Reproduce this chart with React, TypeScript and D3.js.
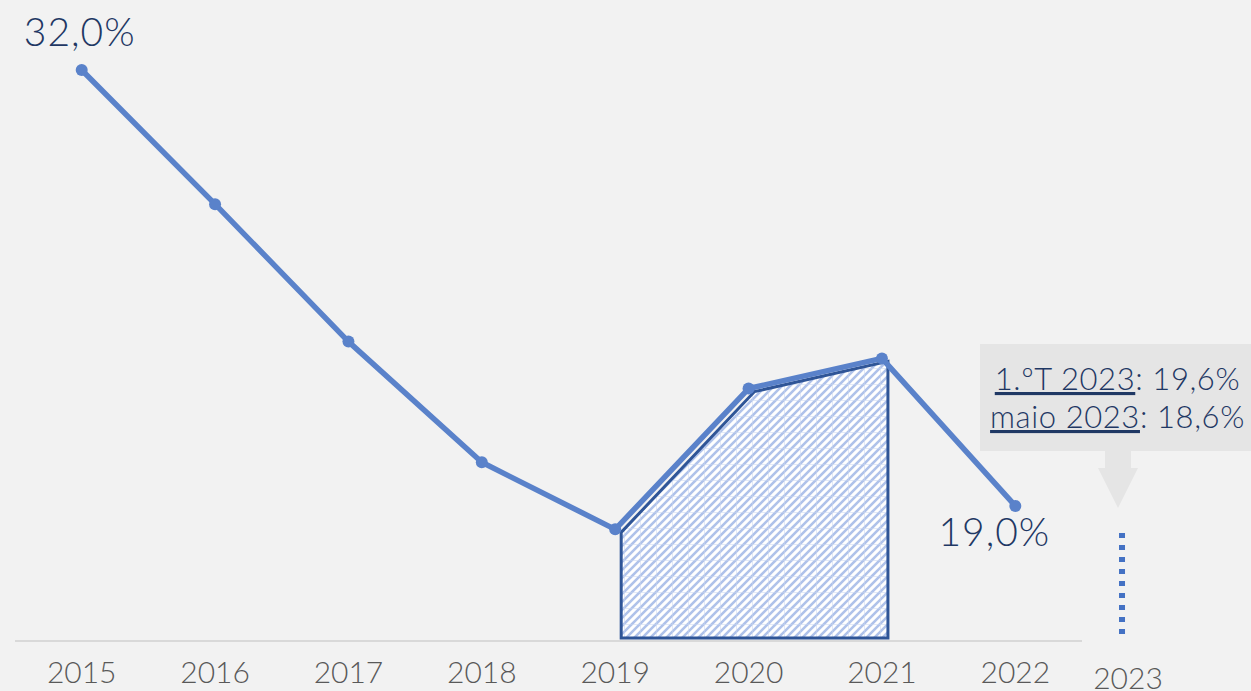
import React from "react";
import * as d3 from "d3";

const years = ["2015", "2016", "2017", "2018", "2019", "2020", "2021", "2022"];
const rates = [32.0, 28.0, 23.9, 20.3, 18.3, 22.5, 23.4, 19.0];
const shadedYears = ["2019", "2020", "2021"];
const extraYear = "2023";
const calloutLines = [
  { label: "1.ºT 2023", value: ": 19,6%" },
  { label: "maio 2023", value: ": 18,6%" },
];
const labelledPoints = [
  { year: "2015", text: "32,0%" },
  { year: "2022", text: "19,0%" },
];

const W = 1251;
const H = 691;
const FONT = "Lato, 'Open Sans', sans-serif";
const DARK = "#1F3864";
const LINE = "#5A82CA";

export default function App() {
  const x = d3.scaleBand<string>().domain(years).range([15, 1082]).padding(0);
  const cx = (y: string) => (x(y) as number) + x.bandwidth() / 2;
  const y = d3.scaleLinear().domain([15, 34]).range([640, 3]);
  const baseY = 641;

  const data = years.map((yr, i) => ({ yr, v: rates[i] }));
  const line = d3
    .line<{ yr: string; v: number }>()
    .x((d) => cx(d.yr))
    .y((d) => y(d.v));
  const shaded = data.filter((d) => shadedYears.includes(d.yr));
  const area = d3
    .area<{ yr: string; v: number }>()
    .x((d) => cx(d.yr) + 6)
    .y0(baseY - 3)
    .y1((d) => y(d.v) + 3);

  const x2023 = cx("2022") + x.bandwidth() * 0.8;
  const boxX = 980;
  const boxW = W - boxX;
  const boxY = 344;
  const boxH = 107;
  const arrowCx = 1118;

  return (
    <svg width={W} height={H} style={{ position: "absolute", left: 0, top: 0, display: "block" }}>
      <defs>
        <pattern id="hatch" width="16" height="16" patternUnits="userSpaceOnUse">
          <rect width="16" height="16" fill="#FFFFFF" />
          <path
            d="M-4,4 L4,-4 M0,16 L16,0 M12,20 L20,12 M-4,12 L12,-4 M4,20 L20,4"
            stroke="#AFC2EA"
            strokeWidth="2.6"
          />
          <path d="M0,0 L16,0 M0,0 L0,16" stroke="#C9D6F0" strokeWidth="1" />
        </pattern>
      </defs>
      <rect width={W} height={H} fill="#F2F2F2" />

      <line x1={15} x2={1082} y1={baseY} y2={baseY} stroke="#D9D9D9" strokeWidth={2} />

      <path
        d={area(shaded) as string}
        fill="url(#hatch)"
        stroke="#2F5597"
        strokeWidth={3}
        strokeLinejoin="miter"
      />
      <path d={line(data) as string} fill="none" stroke={LINE} strokeWidth={5.5} strokeLinejoin="round" />
      {data.map((d) => (
        <circle key={d.yr} cx={cx(d.yr)} cy={y(d.v)} r={6} fill={LINE} />
      ))}

      {labelledPoints.map((p) => {
        const d = data.find((e) => e.yr === p.year)!;
        const isFirst = p.year === years[0];
        return (
          <text
            key={p.year}
            x={cx(p.year) + (isFirst ? -2 : -21)}
            y={y(d.v) + (isFirst ? -24 : 40)}
            textAnchor="middle"
            fontFamily={FONT}
            fontWeight={300}
            fontSize={39}
            letterSpacing={1}
            fill={DARK}
          >
            {p.text}
          </text>
        );
      })}

      {years.map((yr) => (
        <text
          key={yr}
          x={cx(yr)}
          y={683}
          textAnchor="middle"
          fontFamily={FONT}
          fontWeight={300}
          fontSize={30}
          fill="#595959"
        >
          {yr}
        </text>
      ))}
      <text x={x2023 + 6} y={689} textAnchor="middle" fontFamily={FONT} fontWeight={300} fontSize={30} fill="#595959">
        {extraYear}
      </text>

      <line
        x1={x2023}
        x2={x2023}
        y1={533}
        y2={636}
        stroke="#4472C4"
        strokeWidth={6}
        strokeDasharray="5 7"
      />

      <rect x={boxX} y={boxY} width={boxW} height={boxH} fill="#E5E5E5" />
      <path
        d={`M${arrowCx - 13},${boxY + boxH} L${arrowCx + 13},${boxY + boxH} L${arrowCx + 13},${boxY + boxH + 17} L${arrowCx + 20},${boxY + boxH + 17} L${arrowCx},${boxY + boxH + 57} L${arrowCx - 20},${boxY + boxH + 17} L${arrowCx - 13},${boxY + boxH + 17} Z`}
        fill="#E5E5E5"
      />
      {calloutLines.map((l, i) => (
        <text
          key={l.label}
          x={boxX + boxW / 2 + 2}
          y={boxY + 46 + i * 38}
          textAnchor="middle"
          fontFamily={FONT}
          fontWeight={300}
          fontSize={31}
          letterSpacing={0.6}
          fill={DARK}
        >
          <tspan textDecoration="underline" style={{ textDecoration: "underline" }}>
            {l.label}
          </tspan>
          <tspan>{l.value}</tspan>
        </text>
      ))}
    </svg>
  );
}
